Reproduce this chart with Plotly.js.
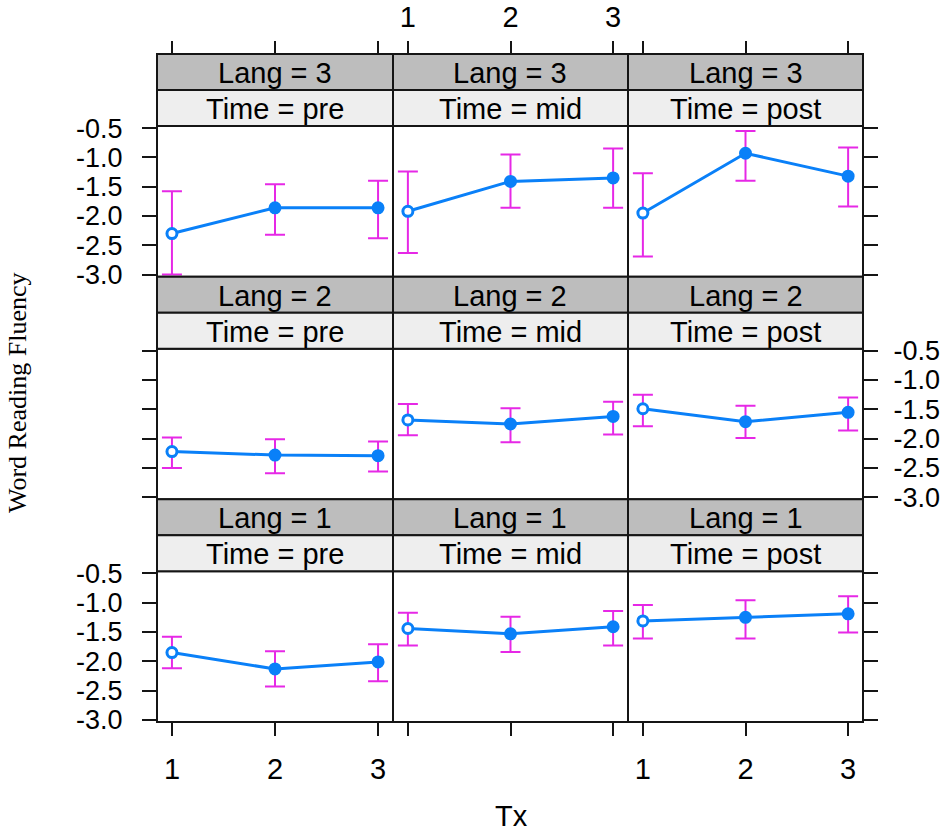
<!DOCTYPE html>
<html>
<head>
<meta charset="utf-8">
<script src="https://cdn.plot.ly/plotly-3.0.1.min.js"></script>
<style>html,body{margin:0;padding:0;background:#fff;}#chart{width:950px;height:839px;}</style>
</head>
<body>
<div id="chart"></div>
<script>
// ---- data ----
const tx = [1, 2, 3];
const timeLevels = ['pre', 'mid', 'post'];
const langLevels = ['3', '2', '1'];           // rows, top to bottom
const yTickVals = [-3.0, -2.5, -2.0, -1.5, -1.0, -0.5];
const yTickText = ['-3.0', '-2.5', '-2.0', '-1.5', '-1.0', '-0.5'];
const xTickText = ['1', '2', '3'];

const meanL3Pre  = [-2.30, -1.86, -1.86];
const lowL3Pre   = [-3.00, -2.32, -2.38];
const highL3Pre  = [-1.58, -1.46, -1.40];
const meanL3Mid  = [-1.92, -1.41, -1.35];
const lowL3Mid   = [-2.63, -1.86, -1.86];
const highL3Mid  = [-1.24, -0.95, -0.85];
const meanL3Post = [-1.95, -0.93, -1.32];
const lowL3Post  = [-2.69, -1.40, -1.84];
const highL3Post = [-1.27, -0.55, -0.83];

const meanL2Pre  = [-2.22, -2.28, -2.29];
const lowL2Pre   = [-2.50, -2.59, -2.56];
const highL2Pre  = [-1.98, -2.01, -2.05];
const meanL2Mid  = [-1.68, -1.75, -1.62];
const lowL2Mid   = [-1.94, -2.06, -1.93];
const highL2Mid  = [-1.41, -1.48, -1.37];
const meanL2Post = [-1.49, -1.71, -1.55];
const lowL2Post  = [-1.79, -1.99, -1.86];
const highL2Post = [-1.25, -1.44, -1.30];

const meanL1Pre  = [-1.85, -2.13, -2.01];
const lowL1Pre   = [-2.12, -2.43, -2.34];
const highL1Pre  = [-1.58, -1.83, -1.71];
const meanL1Mid  = [-1.44, -1.53, -1.41];
const lowL1Mid   = [-1.73, -1.84, -1.73];
const highL1Mid  = [-1.17, -1.24, -1.14];
const meanL1Post = [-1.31, -1.25, -1.19];
const lowL1Post  = [-1.61, -1.61, -1.51];
const highL1Post = [-1.04, -0.96, -0.89];

const panels = [
  [[meanL3Pre, lowL3Pre, highL3Pre], [meanL3Mid, lowL3Mid, highL3Mid], [meanL3Post, lowL3Post, highL3Post]],
  [[meanL2Pre, lowL2Pre, highL2Pre], [meanL2Mid, lowL2Mid, highL2Mid], [meanL2Post, lowL2Post, highL2Post]],
  [[meanL1Pre, lowL1Pre, highL1Pre], [meanL1Mid, lowL1Mid, highL1Mid], [meanL1Post, lowL1Post, highL1Post]]
];

// ---- layout geometry (pixels) ----
const W = 950, H = 839;
const colEdges = [157, 393, 628, 863];
const gridTop = 54, rowH = 222.67, stripH = 36;
const px = v => v / W;
const py = v => 1 - v / H;

const SANS = 'Liberation Sans, Arial, sans-serif';
const BLUE = '#0a80f8';
const MAG = '#e628e6';
const EDGE = '#151515';

const traces = [];
const layout = {
  width: W, height: H,
  margin: {l: 0, r: 0, t: 0, b: 0},
  paper_bgcolor: '#fff', plot_bgcolor: '#fff',
  showlegend: false,
  font: {family: SANS, color: '#000'},
  shapes: [], annotations: []
};

for (let r = 0; r < 3; r++) {
  const rowTop = gridTop + r * rowH;
  const panelTop = rowTop + 2 * stripH;
  const panelBot = rowTop + rowH;
  for (let c = 0; c < 3; c++) {
    const k = r * 3 + c + 1;
    const xn = 'xaxis' + (k === 1 ? '' : k);
    const yn = 'yaxis' + (k === 1 ? '' : k);
    const xid = 'x' + (k === 1 ? '' : k);
    const yid = 'y' + (k === 1 ? '' : k);
    const [m, lo, hi] = panels[r][c];

    traces.push({
      type: 'scatter', mode: 'lines+markers',
      x: tx, y: m, xaxis: xid, yaxis: yid,
      line: {color: BLUE, width: 3},
      marker: {size: 10, color: ['#ffffff', BLUE, BLUE], line: {color: BLUE, width: 3}},
      error_y: {
        type: 'data', symmetric: false,
        array: m.map((v, i) => hi[i] - v),
        arrayminus: m.map((v, i) => v - lo[i]),
        color: MAG, thickness: 2, width: 10
      },
      cliponaxis: false, hoverinfo: 'skip'
    });

    const bottomRow = (r === 2);
    layout[xn] = {
      domain: [px(colEdges[c]), px(colEdges[c + 1])],
      anchor: yid, range: [0.855, 3.145],
      showgrid: false, zeroline: false, showline: false,
      ticks: bottomRow ? 'outside' : '', ticklen: 13, tickwidth: 2, tickcolor: EDGE,
      tickvals: tx, ticktext: xTickText,
      showticklabels: bottomRow && c !== 1,
      ticklabelstandoff: 8,
      tickfont: {family: SANS, size: 29, color: '#000'}
    };

    const leftCol = (c === 0), rightCol = (c === 2);
    layout[yn] = {
      domain: [py(panelBot), py(panelTop)],
      anchor: xid, range: [-3.035, -0.465],
      side: rightCol ? 'right' : 'left',
      showgrid: false, zeroline: false, showline: false,
      ticks: (leftCol || rightCol) ? 'outside' : '', ticklen: 14, tickwidth: 2, tickcolor: EDGE,
      tickvals: yTickVals, ticktext: yTickText,
      showticklabels: (leftCol && r !== 1) || (rightCol && r === 1),
      ticklabelstandoff: leftCol ? 14 : 10,
      tickfont: {family: SANS, size: 27, color: '#000'}
    };

    const x0 = px(colEdges[c]), x1 = px(colEdges[c + 1]);
    // panel border
    layout.shapes.push({type: 'rect', xref: 'paper', yref: 'paper', x0: x0, x1: x1,
      y0: py(panelBot), y1: py(panelTop), line: {color: EDGE, width: 2}, layer: 'above'});
    // strips
    layout.shapes.push({type: 'rect', xref: 'paper', yref: 'paper', x0: x0, x1: x1,
      y0: py(rowTop + stripH), y1: py(rowTop), fillcolor: '#bdbdbd', line: {color: EDGE, width: 2}, layer: 'above'});
    layout.shapes.push({type: 'rect', xref: 'paper', yref: 'paper', x0: x0, x1: x1,
      y0: py(rowTop + 2 * stripH), y1: py(rowTop + stripH), fillcolor: '#eeeeee', line: {color: EDGE, width: 2}, layer: 'above'});
    layout.annotations.push({xref: 'paper', yref: 'paper', x: (x0 + x1) / 2, y: py(rowTop + stripH / 2 + 1),
      text: 'Lang = ' + langLevels[r], showarrow: false, xanchor: 'center', yanchor: 'middle',
      font: {family: SANS, size: 29, color: '#000'}});
    layout.annotations.push({xref: 'paper', yref: 'paper', x: (x0 + x1) / 2, y: py(rowTop + 1.5 * stripH + 1),
      text: 'Time = ' + timeLevels[c], showarrow: false, xanchor: 'center', yanchor: 'middle',
      font: {family: SANS, size: 29, color: '#000'}});
  }
}

// top tick axes (above the top strips)
for (let c = 0; c < 3; c++) {
  const k = 10 + c;
  const base = 'x' + (c === 0 ? '' : c + 1);
  layout['xaxis' + k] = {
    overlaying: base, anchor: 'free', position: py(gridTop), side: 'top',
    range: [0.855, 3.145], showgrid: false, zeroline: false, showline: false,
    ticks: 'outside', ticklen: 13, tickwidth: 2, tickcolor: EDGE,
    tickvals: tx, ticktext: xTickText, showticklabels: c === 1,
    ticklabelstandoff: 2,
    tickfont: {family: SANS, size: 29, color: '#000'}
  };
  traces.push({type: 'scatter', mode: 'markers', x: [2], y: [-10], xaxis: 'x' + k, yaxis: 'y' + (c === 0 ? '' : c + 1),
    marker: {opacity: 0}, hoverinfo: 'skip', showlegend: false});
}

// axis titles
layout.annotations.push({xref: 'paper', yref: 'paper', x: px(17), y: py(393), text: 'Word Reading Fluency',
  textangle: -90, showarrow: false, xanchor: 'center', yanchor: 'middle', borderpad: 0,
  font: {family: 'Liberation Serif, Times New Roman, serif', size: 26, color: '#000'}});
layout.annotations.push({xref: 'paper', yref: 'paper', x: px(511), y: py(816), text: 'Tx',
  showarrow: false, xanchor: 'center', yanchor: 'middle',
  font: {family: SANS, size: 29, color: '#000'}});

Plotly.newPlot('chart', traces, layout, {staticPlot: true, displayModeBar: false});
</script>
</body>
</html>
